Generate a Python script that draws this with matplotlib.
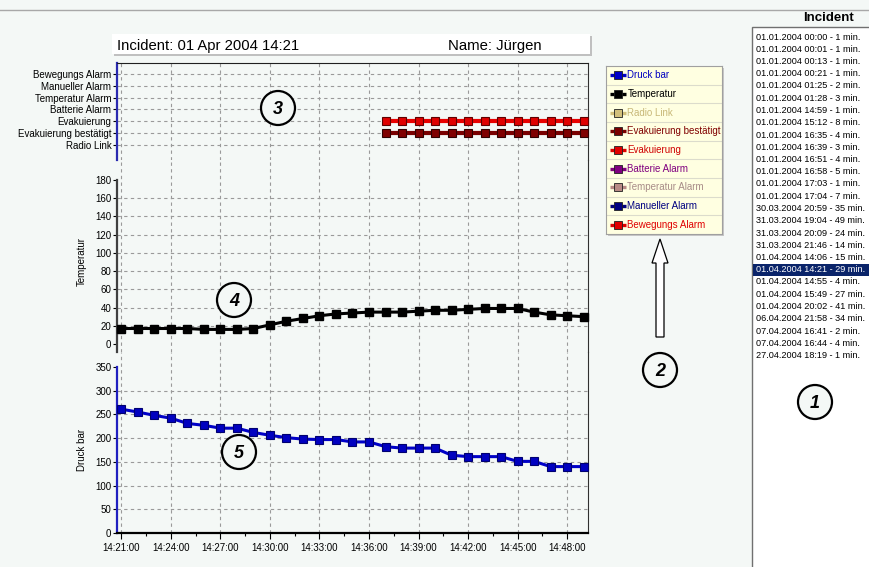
import matplotlib
matplotlib.use('Agg')
import matplotlib.pyplot as plt
import matplotlib.dates as mdates
from matplotlib.patches import Circle, Rectangle, FancyArrow
from matplotlib.ticker import AutoMinorLocator
import pandas as pd

plt.rcParams['font.family'] = ['Liberation Sans', 'DejaVu Sans']

BG = '#f4f8f6'
GRID = dict(color='#9a9a9a', linestyle=(0, (3, 3)), linewidth=0.8, zorder=0)

# one sample per minute over the incident
times = pd.date_range('2004-04-01 14:21', periods=29, freq='min')

druck_bar = [261, 255, 248, 242, 231, 227, 221, 221, 212, 206, 201, 198, 197, 197,
             192, 192, 182, 179, 179, 179, 164, 161, 161, 161, 151, 151, 140, 140, 140]
temperatur = [17, 17, 17, 17, 17, 16, 16, 16, 17, 21, 25, 28, 31, 33,
              34, 35, 35, 35, 36, 37, 37, 38, 39, 39, 39, 35, 32, 31, 30]

alarm_names = ['Radio Link', 'Evakuierung bestätigt', 'Evakuierung', 'Batterie Alarm',
               'Temperatur Alarm', 'Manueller Alarm', 'Bewegungs Alarm']
evakuierung = [0, 0, 0, 0, 0, 0, 0, 0, 0, 0, 0, 0, 0, 0, 0, 0,
               1, 1, 1, 1, 1, 1, 1, 1, 1, 1, 1, 1, 1]
evakuierung_bestaetigt = [0, 0, 0, 0, 0, 0, 0, 0, 0, 0, 0, 0, 0, 0, 0, 0,
                          1, 1, 1, 1, 1, 1, 1, 1, 1, 1, 1, 1, 1]

temp_ticks = [0, 20, 40, 60, 80, 100, 120, 140, 160, 180]
druck_ticks = [0, 50, 100, 150, 200, 250, 300, 350]

legend_labels = ['Druck bar', 'Temperatur', 'Radio Link', 'Evakuierung bestätigt', 'Evakuierung',
                 'Batterie Alarm', 'Temperatur Alarm', 'Manueller Alarm', 'Bewegungs Alarm']
legend_colors = ['#0000c8', '#000000', '#d2c07c', '#7a0000', '#e00000',
                 '#800080', '#b88a86', '#000080', '#e00000']
legend_text_colors = ['#0000c0', '#000000', '#c8b878', '#800000', '#d00000',
                      '#800080', '#a88c88', '#000080', '#e00000']

incidents = ['01.01.2004 00:00 - 1 min.', '01.01.2004 00:01 - 1 min.', '01.01.2004 00:13 - 1 min.',
             '01.01.2004 00:21 - 1 min.', '01.01.2004 01:25 - 2 min.', '01.01.2004 01:28 - 3 min.',
             '01.01.2004 14:59 - 1 min.', '01.01.2004 15:12 - 8 min.', '01.01.2004 16:35 - 4 min.',
             '01.01.2004 16:39 - 3 min.', '01.01.2004 16:51 - 4 min.', '01.01.2004 16:58 - 5 min.',
             '01.01.2004 17:03 - 1 min.', '01.01.2004 17:04 - 7 min.', '30.03.2004 20:59 - 35 min.',
             '31.03.2004 19:04 - 49 min.', '31.03.2004 20:09 - 24 min.', '31.03.2004 21:46 - 14 min.',
             '01.04.2004 14:06 - 15 min.', '01.04.2004 14:21 - 29 min.', '01.04.2004 14:55 - 4 min.',
             '01.04.2004 15:49 - 27 min.', '01.04.2004 20:02 - 41 min.', '06.04.2004 21:58 - 34 min.',
             '07.04.2004 16:41 - 2 min.', '07.04.2004 16:44 - 4 min.', '27.04.2004 18:19 - 1 min.']
selected = 19

W, H = 869, 567
fig = plt.figure(figsize=(W / 100, H / 100), dpi=100, facecolor=BG)


def px_axes(x0, y0, x1, y1, **kw):
    # axes placed by pixel box (top-left origin)
    return fig.add_axes([x0 / W, 1 - y1 / H, (x1 - x0) / W, (y1 - y0) / H], **kw)


# page furniture in pixel coordinates
page = px_axes(0, 0, W, H)
page.set_xlim(0, W)
page.set_ylim(H, 0)
page.axis('off')
page.set_zorder(0)
page.plot([0, W], [10, 10], color='#a8a8a8', lw=1)
page.add_patch(Rectangle((114, 36), 478, 20, fc='#c0c0c0', ec='none'))
page.add_patch(Rectangle((112, 34), 478, 20, fc='white', ec='none'))
page.text(117, 46, 'Incident: 01 Apr 2004 14:21', fontsize=10.7, va='center', ha='left')
page.text(448, 46, 'Name: Jürgen', fontsize=10.7, va='center', ha='left')
page.add_patch(Rectangle((608, 68), 116, 168, fc='#c8c8c8', ec='none'))
page.text(828, 18, 'Incident', fontsize=9.5, fontweight='bold', ha='center', va='center')
page.add_patch(Rectangle((752, 27), 120, 545, fc='white', ec='#707070', lw=1))
row_h = 12.25
for i, label in enumerate(incidents):
    y = 37 + i * row_h
    color = 'black'
    if i == selected:
        page.add_patch(Rectangle((753, y - 6), 116, 12, fc='#0a246a', ec='none'))
        color = 'white'
    page.text(756, y, label, fontsize=6.6, color=color, va='center', ha='left')

# stacked chart panels
x0, x1 = 117, 588
ax_a = px_axes(x0, 63, x1, 160, facecolor=BG)
ax_t = px_axes(x0, 160, x1, 352, facecolor=BG, sharex=ax_a)
ax_p = px_axes(x0, 352, x1, 533, facecolor=BG, sharex=ax_a)
for ax in (ax_a, ax_t, ax_p):
    ax.set_zorder(1)
    ax.patch.set_alpha(0)
    ax.grid(axis='x', **GRID)
    ax.tick_params(axis='y', direction='out', length=3, width=0.8, labelsize=7, pad=1)
    ax.spines['right'].set_color('#303030')
    ax.spines['top'].set_color('#202020')

# alarm states
ax_a.set_ylim(-1.27, 6.93)
ax_a.set_yticks(range(len(alarm_names)))
ax_a.set_yticklabels(alarm_names)
for i in range(len(alarm_names)):
    ax_a.axhline(i, **GRID)
for name, flags, lc, fc, ec in [('Evakuierung', evakuierung, '#e80000', '#e00000', '#600000'),
                                ('Evakuierung bestätigt', evakuierung_bestaetigt, '#7a0000', '#800000', '#300000')]:
    xs = [t for t, f in zip(times, flags) if f]
    ys = [alarm_names.index(name)] * len(xs)
    ax_a.plot(xs, ys, color=lc, lw=3, marker='s', ms=5.5, mfc=fc, mec=ec, mew=0.8, zorder=3,
              clip_on=False)
ax_a.spines['bottom'].set_visible(False)
ax_a.spines['left'].set_color('#2a2ab0')
ax_a.spines['left'].set_linewidth(1.6)

# temperature
ax_t.set_ylim(-8.8, 202)
ax_t.set_yticks(temp_ticks)
for v in temp_ticks[1:-1]:
    ax_t.axhline(v, **GRID)
ax_t.plot(times, temperatur, color='black', lw=2.2, marker='s', ms=5.5, mfc='black', mec='black',
          zorder=3, clip_on=False)
ax_t.spines['top'].set_visible(False)
ax_t.spines['bottom'].set_visible(False)
ax_t.spines['left'].set_color('#404040')
ax_t.spines['left'].set_linewidth(1.6)
ax_t.spines['left'].set_bounds(-8.8, 180)
ax_t.set_ylabel('Temperatur', fontsize=7)
ax_t.yaxis.set_label_coords(-0.064, 0.47)

# pressure
ax_p.set_ylim(0, 381.6)
ax_p.set_yticks(druck_ticks)
for v in druck_ticks[1:-1]:
    ax_p.axhline(v, **GRID)
ax_p.plot(times, druck_bar, color='#0000c8', lw=2.2, marker='s', ms=5.5, mfc='#0000c0', mec='#000070',
          mew=0.8, zorder=3, clip_on=False)
ax_p.spines['top'].set_visible(False)
ax_p.spines['left'].set_color('#2020c0')
ax_p.spines['left'].set_linewidth(1.6)
ax_p.spines['left'].set_bounds(0, 350)
ax_p.spines['bottom'].set_linewidth(1.6)
ax_p.set_ylabel('Druck bar', fontsize=7)
ax_p.yaxis.set_label_coords(-0.064, 0.46)

ax_p.set_xlim(times[0] - pd.Timedelta(seconds=16), times[-1] + pd.Timedelta(seconds=16))
ax_p.xaxis.set_major_locator(mdates.MinuteLocator(byminute=range(0, 60, 3)))
ax_p.xaxis.set_major_formatter(mdates.DateFormatter('%H:%M:%S'))
ax_p.xaxis.set_minor_locator(AutoMinorLocator(2))
ax_p.tick_params(axis='x', which='major', length=4, width=0.8, labelsize=7, pad=3)
ax_p.tick_params(axis='x', which='minor', length=2, width=0.8)
for ax in (ax_a, ax_t):
    ax.tick_params(axis='x', which='both', length=0, labelbottom=False)

# legend box
leg = px_axes(606, 66, 722, 234, facecolor='#ffffe1')
leg.set_zorder(2)
leg.set_xlim(0, 1)
leg.set_ylim(len(legend_labels), 0)
leg.set_xticks([])
leg.set_yticks([])
for s in leg.spines.values():
    s.set_color('#a0a0a0')
for i, (label, lc, tc) in enumerate(zip(legend_labels, legend_colors, legend_text_colors)):
    y = i + 0.5
    if i:
        leg.axhline(i, color='#dcdccc', lw=0.8)
    leg.plot([0.035, 0.175], [y, y], color=lc, lw=2.4, solid_capstyle='butt')
    leg.plot([0.105], [y], marker='s', ms=5.5, mfc=lc, mec='#202020', mew=0.6)
    leg.text(0.185, y, label, color=tc, fontsize=7, va='center', ha='left')

# numbered callouts and arrow on top
over = px_axes(0, 0, W, H)
over.set_xlim(0, W)
over.set_ylim(H, 0)
over.axis('off')
over.set_zorder(5)
over.add_patch(FancyArrow(660, 337, 0, -98, width=8, head_width=16, head_length=24,
                          length_includes_head=True, fc='white', ec='black', lw=0.9))
for num, cx, cy in [('1', 815, 402), ('2', 660, 370), ('3', 278, 108), ('4', 234, 300), ('5', 239, 452)]:
    over.add_patch(Circle((cx, cy), 17, fc=BG, ec='black', lw=1.6))
    over.text(cx, cy + 1, num, fontsize=13, fontweight='bold', fontstyle='italic',
              ha='center', va='center')

fig.savefig('out.png', dpi=100, facecolor=BG)
